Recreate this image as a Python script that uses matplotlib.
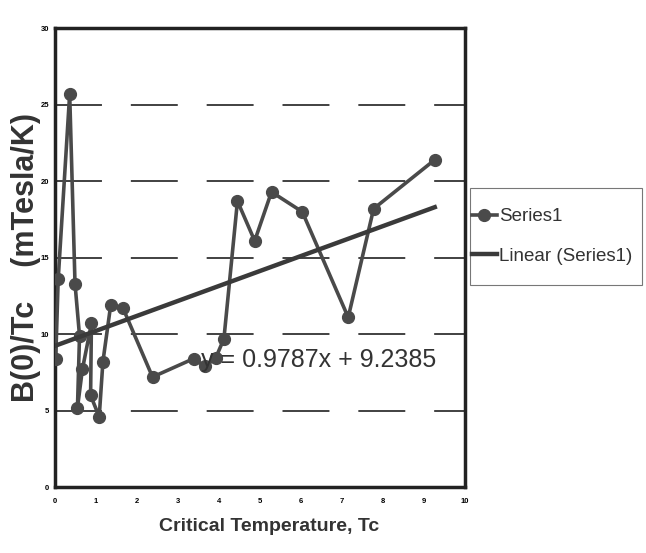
import matplotlib
matplotlib.use("Agg")
import matplotlib.pyplot as plt
from matplotlib.patches import Rectangle
import numpy as np

# values
tc = [0.02, 0.08, 0.36, 0.49, 0.60, 0.55, 0.67, 0.89, 0.87, 1.08, 1.17, 1.36, 1.66,
      2.38, 3.38, 3.66, 3.92, 4.12, 4.45, 4.87, 5.28, 6.03, 7.15, 7.77, 9.26]
b_tc = [8.4, 13.6, 25.7, 13.3, 9.9, 5.2, 7.7, 10.7, 6.0, 4.6, 8.2, 11.9, 11.7,
        7.2, 8.4, 7.9, 8.45, 9.7, 18.7, 16.1, 19.3, 18.0, 11.1, 18.2, 21.4]

# trendline from the printed equation
slope = 0.9787
intercept = 9.2385

x_ticks = [0, 1, 2, 3, 4, 5, 6, 7, 8, 9, 10]
y_ticks = [0, 5, 10, 15, 20, 25, 30]

font = ['Liberation Sans', 'DejaVu Sans']
gray = '#4a4a4a'
plt.rcParams['font.family'] = font

fig = plt.figure(figsize=(6.46, 5.53), dpi=100)
ax = fig.add_axes([0.085, 0.119, 0.635, 0.83])

# broken (dashed) gridlines like the scan
for yv in y_ticks[1:-1]:
    ax.axhline(yv, color='#333333', lw=1.3, dashes=(26, 16), zorder=1)

ax.plot(tc, b_tc, color=gray, lw=2.6, marker='o', markersize=8.5,
        markerfacecolor=gray, markeredgecolor=gray, label='Series1', zorder=3)

xt = np.array([min(tc), max(tc)])
ax.plot(xt, slope * xt + intercept, color='#3a3a3a', lw=3.2,
        label='Linear (Series1)', zorder=4)

ax.text(6.42, 8.3, 'y = %.4fx + %.4f' % (slope, intercept), fontsize=18,
        color='#333333', ha='center', va='center', zorder=5)

ax.set_xlim(0, 10)
ax.set_ylim(0, 30)
ax.set_xticks(x_ticks)
ax.set_yticks(y_ticks)
ax.tick_params(length=0, labelsize=5.5)
ax.tick_params(axis='x', pad=8)
ax.tick_params(axis='y', pad=4)
for lab in ax.get_xticklabels() + ax.get_yticklabels():
    lab.set_fontweight('bold')
for sp in ax.spines.values():
    sp.set_linewidth(2.5)
    sp.set_color('#222222')

ax.set_xlabel('Critical Temperature, Tc', fontsize=14, fontweight='bold',
              color='#333333', x=0.522, labelpad=9)
ax.set_ylabel('B(0)/Tc    (mTesla/K)', fontsize=22, fontweight='bold',
              color='#333333', labelpad=0)

# legend outside the plot, with its own box
leg = fig.legend(loc='center left', bbox_to_anchor=(0.731, 0.572), frameon=False,
                 prop={'size': 13.5}, handlelength=1.3, handletextpad=0.15,
                 borderpad=0, borderaxespad=0, labelspacing=1.2)
for t in leg.get_texts():
    t.set_color('#333333')
fig.patches.append(Rectangle((0.7276, 0.4846), 0.266, 0.1754, transform=fig.transFigure,
                             fill=False, edgecolor='#777777', lw=0.8))

fig.savefig('out.png', dpi=100)
